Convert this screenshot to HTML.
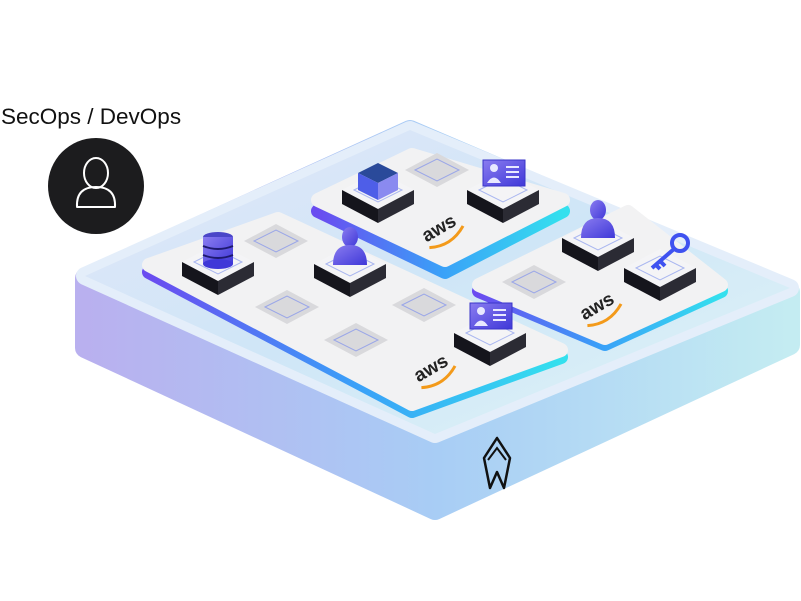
<!DOCTYPE html>
<html><head><style>
html,body{margin:0;padding:0;background:#fff;width:801px;height:601px;overflow:hidden}
</style></head><body>
<svg width="801" height="601" viewBox="0 0 801 601" xmlns="http://www.w3.org/2000/svg">
<defs>
<linearGradient id="side" x1="0" x2="1" y1="0" y2="0">
<stop offset="0" stop-color="#b9b0ef"/><stop offset="0.5" stop-color="#a8cdf5"/><stop offset="1" stop-color="#c4ecf2"/>
</linearGradient>
<linearGradient id="top" x1="0" x2="1" y1="0" y2="1">
<stop offset="0" stop-color="#e2e6f8"/><stop offset="0.5" stop-color="#cfe6f7"/><stop offset="1" stop-color="#dff4f7"/>
</linearGradient>
<linearGradient id="edge" x1="0" x2="1">
<stop offset="0" stop-color="#6a4cf0"/><stop offset="0.5" stop-color="#3aa0f8"/><stop offset="1" stop-color="#34e0ee"/>
</linearGradient>
<linearGradient id="pur" x1="0" x2="1" y1="0" y2="1">
<stop offset="0" stop-color="#8a7cf0"/><stop offset="1" stop-color="#3f38d8"/>
</linearGradient>
<g id="box">
<polygon points="-36,0 0,-19 36,0 0,19" fill="#f4f4f6"/>
<polygon points="-36,0 0,19 0,33 -36,14" fill="#15151c"/>
<polygon points="0,19 36,0 36,14 0,33" fill="#2b2b34"/>
<polygon points="-24,0 0,-12 24,0 0,12" fill="none" stroke="#a9b6f0" stroke-width="1"/>
</g>
<g id="slot">
<polygon points="-32,0 0,-17 32,0 0,17" fill="#d9d9dc"/>
<polygon points="-22,0 0,-11 22,0 0,11" fill="none" stroke="#9aa6e8" stroke-width="1"/>
</g>
<g id="aws">
<g transform="rotate(-30)">
<text x="-18" y="4" font-family="Liberation Sans,sans-serif" font-weight="bold" font-size="19" fill="#222">aws</text>
<path d="M-18 10 Q2 20 22 8" stroke="#f39a1a" stroke-width="3" fill="none"/>
</g>
</g>
<g id="idc">
<rect x="-20" y="-30" width="42" height="26" fill="url(#pur)" stroke="#3a35c9"/>
<circle cx="-9" cy="-22" r="4" fill="#e8e8ff"/>
<path d="M-16 -7 Q-9 -18 -2 -7Z" fill="#e8e8ff"/>
<rect x="3" y="-24" width="13" height="2" fill="#e8e8ff"/><rect x="3" y="-19" width="13" height="2" fill="#e8e8ff"/><rect x="3" y="-14" width="13" height="2" fill="#e8e8ff"/>
</g>
<g id="per">
<ellipse cx="0" cy="-28" rx="8" ry="10" fill="url(#pur)"/>
<path d="M-17 0 Q-17 -20 0 -20 Q17 -20 17 0Z" fill="url(#pur)"/>
</g>
</defs>

<text x="1" y="124" font-family="Liberation Sans,sans-serif" font-size="22.5" fill="#111">SecOps / DevOps</text>
<circle cx="96" cy="186" r="48" fill="#1c1c1e"/>
<ellipse cx="96" cy="173" rx="12" ry="15" fill="none" stroke="#fff" stroke-width="2"/>
<path d="M77 207 Q76 187 96 187 Q116 187 115 207 Z" fill="none" stroke="#fff" stroke-width="2" stroke-linejoin="round"/>

<!-- base -->
<path d="M85 278 L410 130 L790 292 L790 345 L435 510 L85 348 Z" fill="url(#side)" stroke="url(#side)" stroke-width="20" stroke-linejoin="round"/>
<path d="M85 276 L410 130 L790 288 L435 434 Z" fill="url(#top)" stroke="#e4eefa" stroke-width="18" stroke-linejoin="round"/>
<path d="M85 276 L410 130 L790 288 L435 434 Z" fill="url(#top)"/>

<!-- panel B -->
<path d="M318 205 L412 155 L563 205 L445 266 Z" transform="translate(0,6)" fill="url(#edge)" stroke="url(#edge)" stroke-width="14" stroke-linejoin="round"/>
<path d="M318 200 L412 155 L563 200 L445 260 Z" fill="#f2f2f3" stroke="#f2f2f3" stroke-width="14" stroke-linejoin="round"/>
<!-- panel C -->
<path d="M479 285 L628 212 L721 285 L605 338 Z" transform="translate(0,6)" fill="url(#edge)" stroke="url(#edge)" stroke-width="14" stroke-linejoin="round"/>
<path d="M479 285 L628 212 L721 285 L605 338 Z" fill="#f2f2f3" stroke="#f2f2f3" stroke-width="14" stroke-linejoin="round"/>
<!-- panel A -->
<path d="M149 265 L278 219 L561 350 L412 404 Z" transform="translate(0,7)" fill="url(#edge)" stroke="url(#edge)" stroke-width="14" stroke-linejoin="round"/>
<path d="M149 265 L278 219 L561 350 L412 404 Z" fill="#f2f2f3" stroke="#f2f2f3" stroke-width="14" stroke-linejoin="round"/>

<use href="#slot" x="437" y="170"/>
<use href="#slot" x="276" y="241"/>
<use href="#slot" x="287" y="307"/>
<use href="#slot" x="424" y="305"/>
<use href="#slot" x="356" y="340"/>
<use href="#slot" x="534" y="282"/>

<use href="#aws" x="440" y="230"/>
<use href="#aws" x="432" y="370"/>
<use href="#aws" x="598" y="308"/>

<use href="#box" x="378" y="190"/>
<polygon points="358,173 378,163 398,173 378,183" fill="#2a4a9a"/>
<polygon points="358,173 378,183 378,200 358,190" fill="#4e5ee8"/>
<polygon points="378,183 398,173 398,190 378,200" fill="#8a8af0"/>

<use href="#box" x="503" y="190"/>
<use href="#idc" x="503" y="190"/>

<use href="#box" x="218" y="262"/>
<ellipse cx="218" cy="237" rx="15" ry="5" fill="#4a46c8"/>
<rect x="203" y="237" width="30" height="27" fill="url(#pur)"/>
<ellipse cx="218" cy="264" rx="15" ry="5" fill="#3f38d8"/>
<path d="M203 246 Q218 252 233 246 M203 255 Q218 261 233 255" stroke="#1e1a70" stroke-width="2" fill="none"/>

<use href="#box" x="350" y="264"/>
<use href="#per" x="350" y="265"/>

<use href="#box" x="598" y="238"/>
<use href="#per" x="598" y="238"/>

<use href="#box" x="660" y="268"/>
<circle cx="680" cy="243" r="8" fill="none" stroke="#3f52f0" stroke-width="4"/>
<path d="M674 249 L652 268 M660 261 L665 266 M656 265 L660 269" stroke="#3f52f0" stroke-width="4" fill="none"/>

<use href="#box" x="490" y="333"/>
<use href="#idc" x="490" y="333"/>

<!-- logo -->
<path d="M497 438 L484 458 L490 488 L497 472 L504 488 L510 458 Z" fill="none" stroke="#111" stroke-width="2.5" stroke-linejoin="round"/>
<path d="M488 460 L497 448 L506 460" fill="none" stroke="#111" stroke-width="2"/>
</svg>
</body></html>
